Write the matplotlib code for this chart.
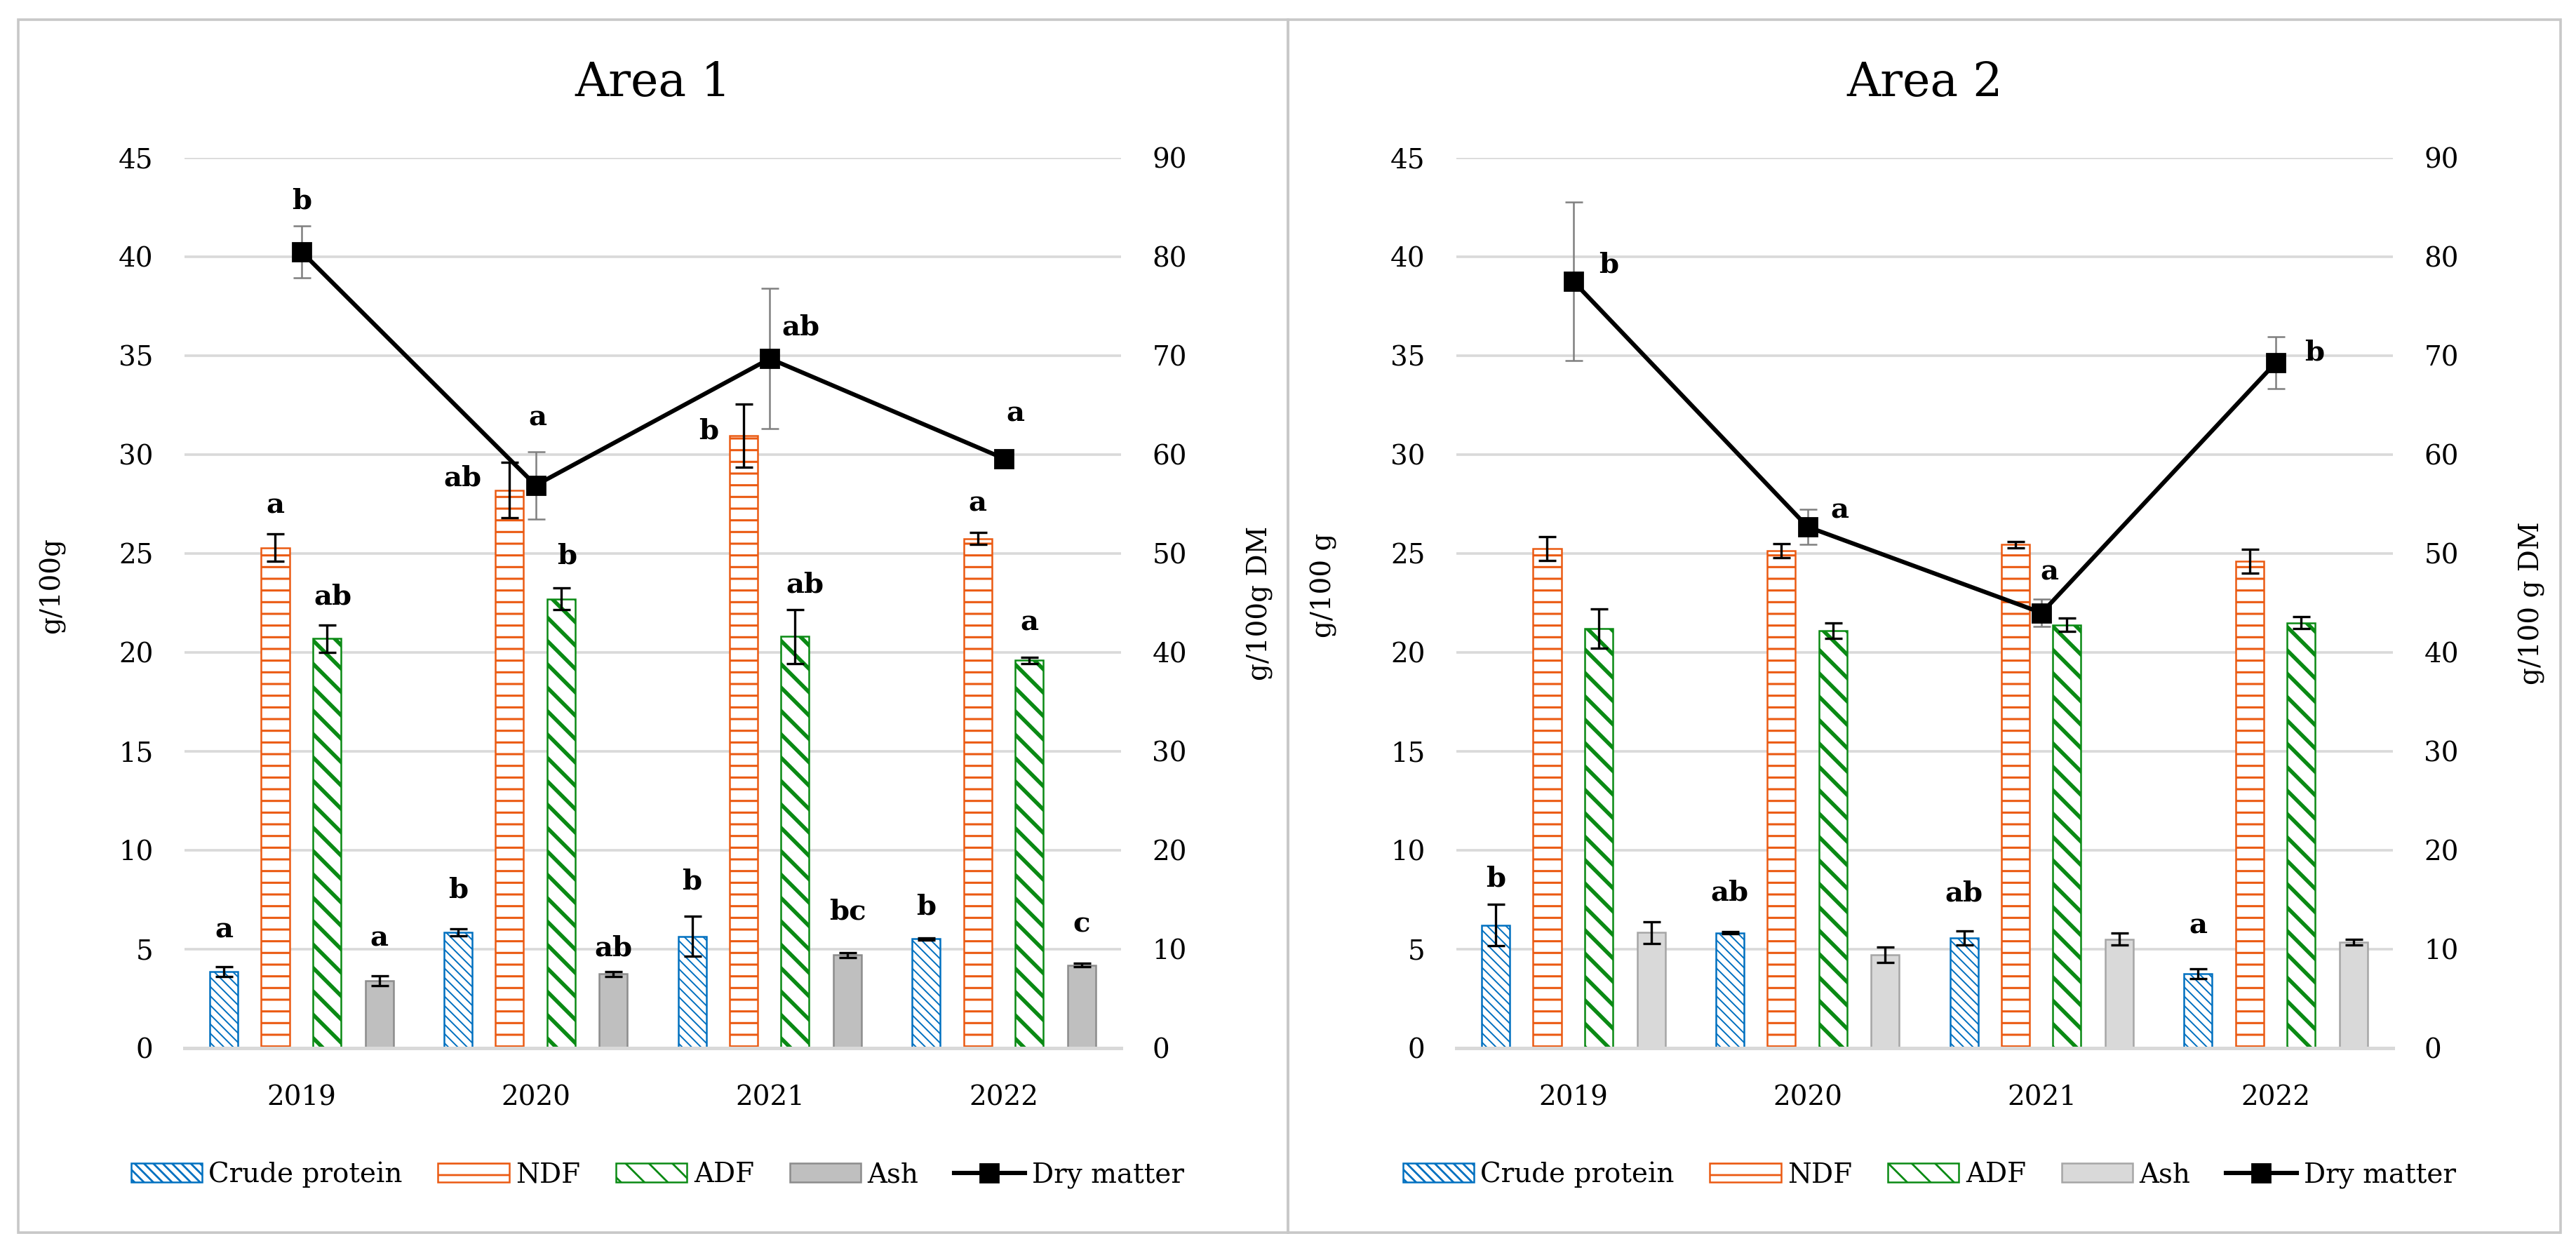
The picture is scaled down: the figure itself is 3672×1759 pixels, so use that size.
import matplotlib
matplotlib.use("Agg")
import matplotlib.pyplot as plt
from matplotlib.patches import Rectangle
from matplotlib.lines import Line2D
import numpy as np

plt.rcParams['font.family'] = ['DejaVu Serif']

years = ['2019', '2020', '2021', '2022']
series_names = ['Crude protein', 'NDF', 'ADF', 'Ash', 'Dry matter']

# Area 1 (g/100g, dry matter on right axis)
cp1 = [3.85, 5.85, 5.65, 5.52]
cp1_err = [0.25, 0.18, 1.0, 0.05]
ndf1 = [25.3, 28.2, 30.95, 25.75]
ndf1_err = [0.7, 1.4, 1.6, 0.3]
adf1 = [20.7, 22.7, 20.8, 19.6]
adf1_err = [0.7, 0.55, 1.35, 0.15]
ash1 = [3.42, 3.75, 4.7, 4.2]
ash1_err = [0.25, 0.12, 0.12, 0.1]
dm1 = [80.5, 56.9, 69.7, 59.6]
dm1_err = [2.6, 3.4, 7.1, 0.5]

# Area 2
cp2 = [6.22, 5.82, 5.56, 3.77]
cp2_err = [1.05, 0.05, 0.35, 0.25]
ndf2 = [25.25, 25.15, 25.45, 24.6]
ndf2_err = [0.6, 0.35, 0.15, 0.6]
adf2 = [21.2, 21.1, 21.4, 21.5]
adf2_err = [1.0, 0.4, 0.35, 0.3]
ash2 = [5.85, 4.72, 5.5, 5.36]
ash2_err = [0.55, 0.4, 0.3, 0.15]
dm2 = [77.5, 52.7, 44.0, 69.3]
dm2_err = [8.0, 1.75, 1.4, 2.6]

# significance letters
cp1_let = ['a', 'b', 'b', 'b']
ndf1_let = ['a', 'ab', 'b', 'a']
adf1_let = ['ab', 'b', 'ab', 'a']
ash1_let = ['a', 'ab', 'bc', 'c']
dm1_let = ['b', 'a', 'ab', 'a']
cp2_let = ['b', 'ab', 'ab', 'a']
dm2_let = ['b', 'a', 'a', 'b']

W, H = 3672, 1759
fig = plt.figure(figsize=(W / 200, H / 200), dpi=200)

# panel frames
for x0, x1 in [(26, 1836), (1836, 3650)]:
    fig.add_artist(Rectangle((x0 / W, 1 - 1757 / H), (x1 - x0) / W, (1757 - 28) / H,
                             transform=fig.transFigure, fill=False,
                             edgecolor='#c8c8c8', lw=1.3))

blue = '#0070c0'
orange = '#eb5a12'
green = '#0a8a14'
offsets = [-0.332, -0.112, 0.108, 0.332]
bw = 0.12
tfs = 14


def hbar(ax, x, h, hatch, ec, hlw, fc='white'):
    with plt.rc_context({'hatch.linewidth': hlw}):
        bars = ax.bar(x, h, bw, color=fc, edgecolor=ec, hatch=hatch, lw=0.9)
    for b in bars:
        if hasattr(b, 'set_hatch_linewidth'):
            b.set_hatch_linewidth(hlw)
    return bars


def panel(left_px, title, ylab, ylab2, cp, cpe, ndf, ndfe, adf, adfe, ash, ashe,
          dm, dme, ash_fc, ash_ec, labels):
    ax = fig.add_axes([left_px / W, 1 - 1494 / H, 1335 / W, 1269 / H])
    x = np.arange(len(years))
    b_cp = hbar(ax, x + offsets[0], cp, '\\\\\\\\\\', blue, 0.7)
    b_ndf = hbar(ax, x + offsets[1], ndf, '--', orange, 1.1)
    b_adf = hbar(ax, x + offsets[2], adf, '\\\\', green, 2.0)
    b_ash = ax.bar(x + offsets[3], ash, bw, color=ash_fc, edgecolor=ash_ec, lw=0.9)
    for off, v, e in zip(offsets, [cp, ndf, adf, ash], [cpe, ndfe, adfe, ashe]):
        ax.errorbar(x + off, v, yerr=e, fmt='none', ecolor='black', elinewidth=1.2,
                    capsize=4.5, capthick=1.2, zorder=3)
    ax.set_xlim(-0.5, 3.5)
    ax.set_ylim(0, 45)
    ax.set_yticks(np.arange(0, 46, 5))
    ax.set_xticks(x)
    ax.set_xticklabels(years)
    ax.tick_params(length=0, labelsize=tfs)
    ax.tick_params(axis='y', pad=16)
    ax.tick_params(axis='x', pad=19)
    ax.yaxis.grid(True, color='#d9d9d9', lw=1.3)
    ax.set_axisbelow(True)
    for s in ['top', 'left', 'right']:
        ax.spines[s].set_visible(False)
    ax.spines['bottom'].set_color('#d9d9d9')
    ax.spines['bottom'].set_linewidth(1.8)
    ax.set_ylabel(ylab, fontsize=tfs)
    ax.yaxis.set_label_coords(-0.127, 0.52)
    ax.text(0.5, 1.084, title, transform=ax.transAxes, ha='center', va='center', fontsize=24)

    ax2 = ax.twinx()
    ax2.errorbar(x, dm, yerr=dme, fmt='none', ecolor='#7f7f7f', elinewidth=0.9,
                 capsize=4.5, capthick=0.9, zorder=2)
    ax2.plot(x, dm, color='black', lw=2.2, marker='s', ms=9.5, zorder=3)
    ax2.set_ylim(0, 90)
    ax2.set_yticks(np.arange(0, 91, 10))
    ax2.tick_params(length=0, labelsize=tfs, pad=16)
    for s in ax2.spines.values():
        s.set_visible(False)
    ax2.set_ylabel(ylab2, fontsize=tfs, rotation=90)
    ax2.yaxis.set_label_coords(1.134, 0.5)

    # letters
    data_map = {'cp': (cp, cpe, offsets[0]), 'ndf': (ndf, ndfe, offsets[1]),
                'adf': (adf, adfe, offsets[2]), 'ash': (ash, ashe, offsets[3])}
    for key, lets, offs in labels:
        for i, (t, (dx, dy)) in enumerate(zip(lets, offs)):
            if key == 'dm':
                ax2.annotate(t, (x[i], dm[i]), xytext=(dx, dy), textcoords='offset points',
                             ha='center', va='center', fontsize=14.5, fontweight='bold')
            else:
                v, e, off = data_map[key]
                ax.annotate(t, (x[i] + off, v[i] + e[i]), xytext=(dx, dy),
                            textcoords='offset points', ha='center', va='center',
                            fontsize=14.5, fontweight='bold')

    handles = [b_cp[0], b_ndf[0], b_adf[0], b_ash[0],
               Line2D([], [], color='black', lw=2.2, marker='s', ms=9.5)]
    ax2.legend(handles, series_names, loc='center', bbox_to_anchor=(0.505, -0.1426),
               ncol=5, frameon=False, fontsize=tfs, handlelength=2.6, handletextpad=0.25,
               columnspacing=1.3, borderaxespad=0)
    return ax, ax2


labels1 = [
    ('cp', cp1_let, [(0, 19), (0, 20), (0, 18), (0, 16)]),
    ('ash', ash1_let, [(0, 19), (0, 12), (0, 21), (0, 20)]),
    ('ndf', ndf1_let, [(0, 14.5), (-24, -8), (-18, -14), (0, 15)]),
    ('adf', adf1_let, [(3, 14.5), (3, 16.5), (5, 13), (0, 18)]),
    ('dm', dm1_let, [(0, 26), (1, 34.5), (16, 16), (6, 23)]),
]
labels2 = [
    ('cp', cp2_let, [(0, 13), (0, 20), (0, 19.5), (0, 22)]),
    ('dm', dm2_let, [(18, 8.5), (16.5, 8.5), (4, 21), (20, 5)]),
]

panel(263, 'Area 1', 'g/100g', 'g/100g DM', cp1, cp1_err, ndf1, ndf1_err, adf1, adf1_err,
      ash1, ash1_err, dm1, dm1_err, '#bfbfbf', '#8c8c8c', labels1)
panel(2076, 'Area 2', 'g/100 g', 'g/100 g DM', cp2, cp2_err, ndf2, ndf2_err, adf2, adf2_err,
      ash2, ash2_err, dm2, dm2_err, '#d9d9d9', '#a6a6a6', labels2)

fig.savefig('out.png', dpi=200, facecolor='white')
